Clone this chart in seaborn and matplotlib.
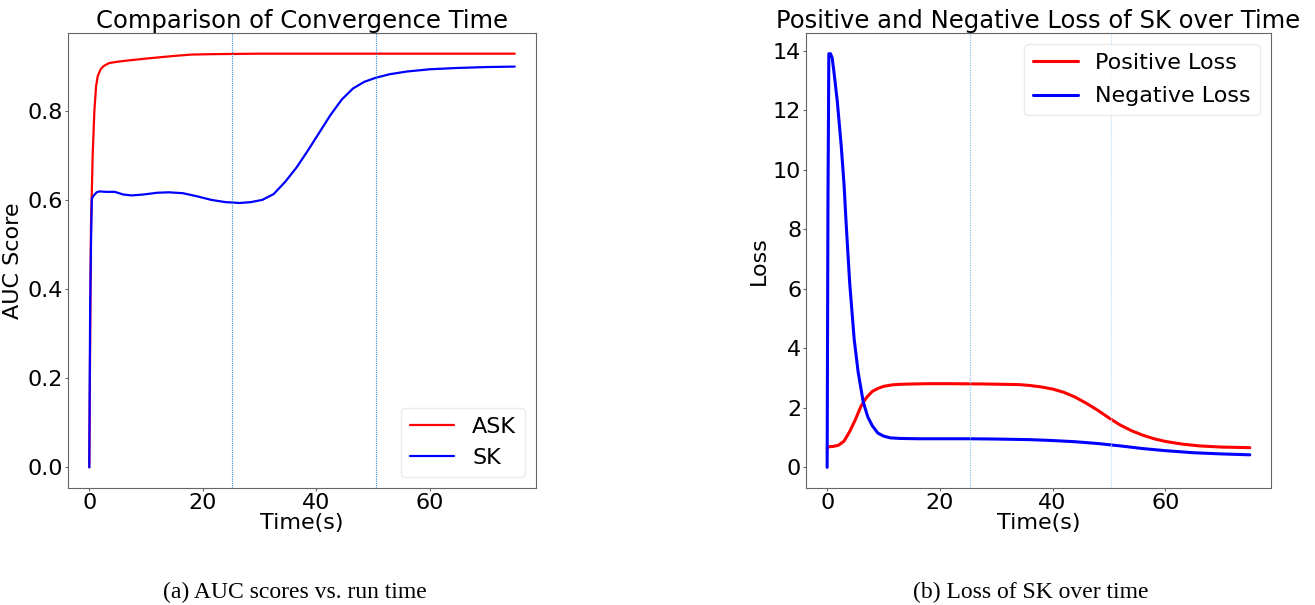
import matplotlib
matplotlib.use("Agg")
import matplotlib.pyplot as plt
import seaborn as sns
import numpy as np
import pandas as pd

# --- AUC scores over run time (left panel) ---
ask_time = [0, 0.3, 0.6, 0.9, 1.2, 1.5, 2, 2.5, 3.5, 5, 7, 10, 12.5, 15, 18, 22, 30, 75]
ask_auc = [0, 0.54, 0.70, 0.80, 0.855, 0.878, 0.893, 0.90, 0.907, 0.91, 0.913, 0.917,
           0.92, 0.923, 0.926, 0.927, 0.928, 0.928]

sk_time = [0, 0.15, 0.3, 0.45, 0.8, 1.3, 1.8, 3, 4.5, 6, 7.5, 9.5, 12, 14, 16.5, 19, 21.5,
           24, 26.5, 28.5, 30.5, 32.5, 34.5, 36.5, 38.5, 40.5, 42.5, 44.5, 46.5, 48.5,
           50.5, 53, 56, 60, 65, 70, 75]
sk_auc = [0, 0.35, 0.5, 0.603, 0.61, 0.617, 0.619, 0.618, 0.618, 0.612, 0.61, 0.612, 0.616,
          0.617, 0.615, 0.608, 0.60, 0.595, 0.593, 0.595, 0.60, 0.613, 0.64, 0.672, 0.71,
          0.75, 0.79, 0.825, 0.85, 0.865, 0.874, 0.882, 0.888, 0.893, 0.896, 0.898, 0.899]

auc_vlines = [25.2, 50.6]

# --- Loss of SK over time (right panel) ---
pos_time = [0, 0.1, 1, 2, 3, 4, 5, 6, 7, 8, 9, 10, 11.5, 13, 15, 18, 22, 28, 34, 36, 38,
            40, 42, 44, 46, 48, 50, 52, 54, 56, 58, 60, 63, 66, 70, 75]
pos_loss = [0.62, 0.69, 0.70, 0.74, 0.88, 1.2, 1.6, 2.05, 2.35, 2.55, 2.65, 2.72, 2.77,
            2.79, 2.8, 2.81, 2.81, 2.8, 2.78, 2.75, 2.7, 2.63, 2.52, 2.36, 2.15, 1.92,
            1.66, 1.42, 1.23, 1.08, 0.96, 0.87, 0.78, 0.72, 0.68, 0.66]

neg_time = [0, 0.15, 0.3, 0.6, 0.9, 1.2, 1.8, 2.5, 3, 3.4, 4, 4.8, 5.5, 6.4, 7.2, 8, 9,
            10, 11.2, 13, 16, 20, 25, 30, 36, 40, 44, 48, 52, 56, 60, 65, 70, 75]
neg_loss = [0, 9.0, 13.9, 13.9, 13.75, 13.3, 12.3, 10.8, 9.5, 8.1, 6.2, 4.3, 3.2, 2.2,
            1.7, 1.4, 1.15, 1.05, 0.99, 0.97, 0.96, 0.96, 0.96, 0.95, 0.93, 0.9, 0.86,
            0.8, 0.72, 0.63, 0.56, 0.49, 0.45, 0.42]

loss_vlines = [25.3, 50.3]

sns.set_style("ticks")
plt.rcParams['font.family'] = ['DejaVu Sans']
plt.rcParams['text.color'] = 'black'
plt.rcParams['axes.labelcolor'] = 'black'
plt.rcParams['axes.edgecolor'] = '#666666'
plt.rcParams['xtick.color'] = '#666666'
plt.rcParams['ytick.color'] = '#666666'
plt.rcParams['xtick.labelcolor'] = 'black'
plt.rcParams['ytick.labelcolor'] = 'black'

fs = 16
title_fs = 17.5
fig = plt.figure(figsize=(13.15, 6.05), dpi=100)
ax1 = fig.add_axes([68 / 1315, 117 / 605, 468 / 1315, 455 / 605])
ax2 = fig.add_axes([806 / 1315, 117 / 605, 465 / 1315, 455 / 605])

# left panel
sns.lineplot(x=ask_time, y=ask_auc, ax=ax1, color='red', lw=1.6, label='ASK',
             estimator=None, sort=False)
sns.lineplot(x=sk_time, y=sk_auc, ax=ax1, color='blue', lw=1.6, label='SK',
             estimator=None, sort=False)
for xv in auc_vlines:
    ax1.axvline(xv, color='#3b8fd0', lw=0.8, ls=(0, (1, 1)))
ax1.set_title('Comparison of Convergence Time', fontsize=title_fs, pad=1)
ax1.set_xlabel('Time(s)', fontsize=fs, labelpad=0)
ax1.set_ylabel('AUC Score', fontsize=fs, labelpad=3)
ax1.set_xticks([0, 20, 40, 60])
ax1.set_yticks([0.0, 0.2, 0.4, 0.6, 0.8])
ax1.tick_params(labelsize=fs, length=2.5, pad=1)
ax1.legend(loc='lower right', fontsize=fs, edgecolor='#e6e6e6')

# right panel
sns.lineplot(x=pos_time, y=pos_loss, ax=ax2, color='red', lw=2.2, label='Positive Loss',
             estimator=None, sort=False)
sns.lineplot(x=neg_time, y=neg_loss, ax=ax2, color='blue', lw=2.2, label='Negative Loss',
             estimator=None, sort=False)
ax2.axvline(loss_vlines[0], color='#8ec2e8', lw=0.9, ls=(0, (1, 1)))
ax2.axvline(loss_vlines[1], color='#bcdcf2', lw=0.9, ls=(0, (1, 1)))
ax2.set_title('Positive and Negative Loss of SK over Time', fontsize=title_fs, pad=1)
ax2.set_xlabel('Time(s)', fontsize=fs, labelpad=0)
ax2.set_ylabel('Loss', fontsize=fs, labelpad=3)
ax2.set_xticks([0, 20, 40, 60])
ax2.set_yticks([0, 2, 4, 6, 8, 10, 12, 14])
ax2.tick_params(labelsize=fs, length=2.5, pad=1)
ax2.legend(loc='upper right', fontsize=fs, edgecolor='#e6e6e6', labelspacing=0.6)

# captions below the panels
fig.text(295 / 1315, 1 - 592 / 605, '(a) AUC scores vs. run time', ha='center', va='center',
         fontsize=17, family=['Liberation Serif'])
fig.text(1031 / 1315, 1 - 592 / 605, '(b) Loss of SK over time', ha='center', va='center',
         fontsize=17, family=['Liberation Serif'])

fig.savefig('out.png', dpi=100)
